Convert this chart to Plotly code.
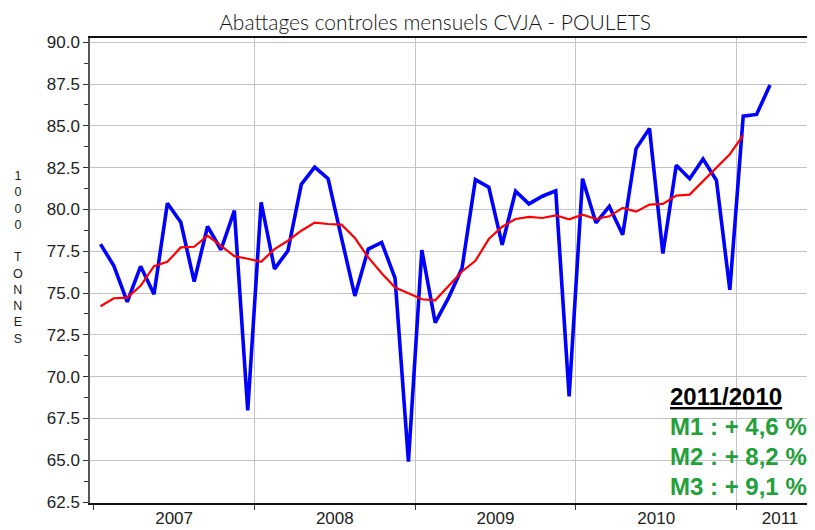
import numpy as np
import pandas as pd
import plotly.graph_objects as go

# ---- data -------------------------------------------------------------
months = [str(p) for p in pd.period_range("2007-01", "2011-03", freq="M")]

monthly = [77.93, 76.63, 74.47, 76.60, 74.93, 80.37, 79.23, 75.69, 78.99, 77.59, 79.93, 67.98,
           80.43, 76.45, 77.53, 81.50, 82.53, 81.84, 78.30, 74.83, 77.63, 78.03, 75.89, 64.92,
           77.57, 73.23, 74.73, 76.49, 81.78, 81.33, 77.89, 81.09, 80.33, 80.79, 81.11, 68.82,
           81.84, 79.20, 80.18, 78.49, 83.64, 84.84, 77.37, 82.64, 81.84, 83.01, 81.74, 75.19,
           85.58, 85.68, 87.44]

moving_avg = [74.21, 74.69, 74.73, 75.43, 76.61, 76.87, 77.73, 77.77, 78.43, 77.81, 77.21, 77.05,
              76.87, 77.63, 78.13, 78.73, 79.21, 79.13, 79.09, 78.29, 77.13, 76.19, 75.33, 74.99,
              74.63, 74.57, 75.43, 76.29, 76.93, 78.23, 78.97, 79.43, 79.55, 79.49, 79.65, 79.41,
              79.69, 79.43, 79.59, 80.09, 79.87, 80.29, 80.33, 80.83, 80.89, 81.69, 82.53, 83.30, 84.44]

year_labels = ["2007", "2008", "2009", "2010", "2011"]
year_label_pos = [5.5, 17.5, 29.5, 41.5, 50.75]
year_bounds = [11.5, 23.5, 35.5, 47.5]

y_ticks = [62.5, 65.0, 67.5, 70.0, 72.5, 75.0, 77.5, 80.0, 82.5, 85.0, 87.5, 90.0]

box_title = "2011/2010"
box_lines = ["M1 : + 4,6 %", "M2 : + 8,2 %", "M3 : + 9,1 %"]

title = "Abattages controles mensuels CVJA - POULETS"
y_title = "1000 TONNES"

# ---- figure -------------------------------------------------------------
x_all = np.arange(len(months))

fig = go.Figure()
fig.add_trace(go.Scatter(x=x_all[:len(monthly)], y=monthly, mode="lines",
                         line=dict(color="#0000FF", width=3.6), hoverinfo="skip"))
fig.add_trace(go.Scatter(x=x_all[:len(moving_avg)], y=moving_avg, mode="lines",
                         line=dict(color="#FF0000", width=2.2), hoverinfo="skip"))
# invisible carrier so the label axis is drawn
fig.add_trace(go.Scatter(x=[year_label_pos[0]], y=[monthly[0]], xaxis="x2", mode="markers",
                         marker=dict(opacity=0), hoverinfo="skip"))

tick_font = dict(family="Liberation Sans, Arial, sans-serif", size=17, color="#222222")
grid_col = "#C4C4C4"
xr = [-0.78, 53.36]

# the page body adds an 8px offset; margins compensate for it
fig.update_layout(
    width=815, height=530,
    margin=dict(l=82, r=8, t=30, b=35, autoexpand=False),
    paper_bgcolor="white", plot_bgcolor="white",
    showlegend=False,
    title=dict(text=title, x=0.524, xanchor="center", y=0.9717, yanchor="middle",
               automargin=False,
               font=dict(family="Lato, DejaVu Sans, sans-serif", size=21, weight=300, color="#111111")),
    xaxis=dict(range=xr, tickvals=year_bounds, ticktext=[""] * len(year_bounds),
               showgrid=True, gridcolor=grid_col, gridwidth=1.3, automargin=False,
               ticks="outside", ticklen=5, tickcolor="#333333",
               showline=True, linecolor="#111111", linewidth=1.5, mirror=True,
               zeroline=False,
               minor=dict(tick0=-0.5, dtick=12, ticks="outside", ticklen=5,
                          tickcolor="#333333", showgrid=False)),
    xaxis2=dict(range=xr, overlaying="x", side="bottom", automargin=False,
                tickvals=year_label_pos, ticktext=year_labels, ticks="",
                ticklabelstandoff=3,
                showgrid=False, zeroline=False, showline=False,
                tickfont=tick_font),
    yaxis=dict(range=[62.45, 90.25], tickvals=y_ticks, tickformat=".1f",
               showgrid=True, gridcolor=grid_col, gridwidth=1.3, automargin=False,
               ticks="outside", ticklen=5, tickcolor="#333333",
               showline=True, linecolor="#555555", linewidth=1.5,
               zeroline=False, tickfont=tick_font,
               minor=dict(tick0=62.5, dtick=1.25, ticks="outside", ticklen=4,
                          tickcolor="#333333", showgrid=False)),
)

# white panel behind the comparison box
fig.add_shape(type="rect", xref="paper", yref="paper",
              x0=0.790, x1=1.0, y0=0.006, y1=0.275,
              fillcolor="white", line=dict(width=0), layer="between")

box_x = 0.797
box_y0 = 0.2295
box_dy = 0.0645
fig.add_annotation(xref="paper", yref="paper", x=box_x, y=box_y0, xanchor="left", yanchor="middle",
                   text="<b><u>" + box_title + "</u></b>", showarrow=False,
                   font=dict(family="Liberation Sans, Arial, sans-serif", size=24, color="#000000"))
for k, line in enumerate(box_lines):
    fig.add_annotation(xref="paper", yref="paper", x=box_x, y=box_y0 - (k + 1) * box_dy,
                       xanchor="left", yanchor="middle", text="<b>" + line + "</b>", showarrow=False,
                       font=dict(family="Liberation Sans, Arial, sans-serif", size=24, color="#22A03A"))

# stacked vertical axis title
stacked = "<br>".join(ch if ch != " " else "&nbsp;" for ch in y_title)
fig.add_annotation(xref="paper", yref="paper", x=-0.0993, y=0.528,
                   xanchor="center", yanchor="middle", text=stacked, showarrow=False,
                   align="center",
                   font=dict(family="Liberation Sans, Arial, sans-serif", size=12.5, color="#222222"))

fig.write_html("out.html")
